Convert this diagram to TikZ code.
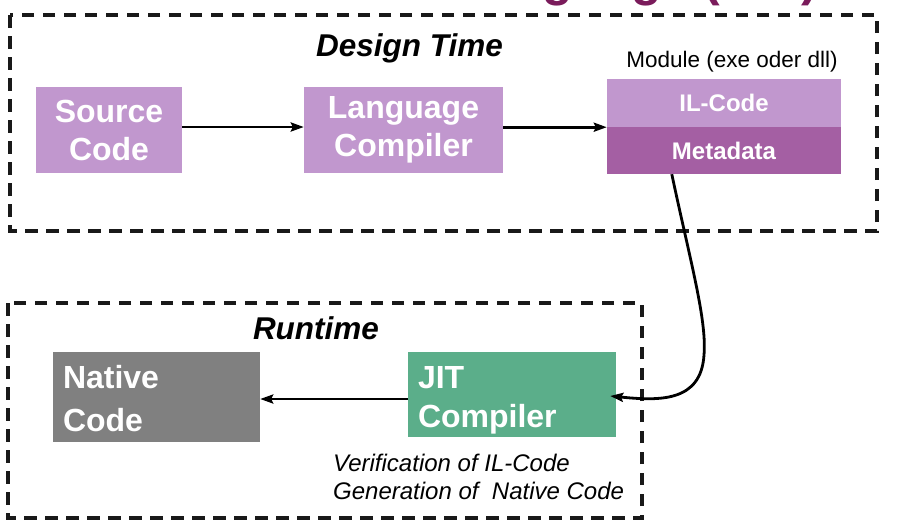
\documentclass[tikz,border=0pt]{standalone}
\usepackage{fontspec}
\setmainfont{Liberation Sans}
\usetikzlibrary{arrows.meta}
\definecolor{lilac}{HTML}{C197CE}
\definecolor{meta}{HTML}{A45FA3}
\definecolor{nativegray}{HTML}{808080}
\definecolor{jitgreen}{HTML}{5BAE8A}
\definecolor{titlepurple}{HTML}{7A1B5B}
\begin{document}
\begin{tikzpicture}[x=1pt,y=-1pt,
  frame/.style={draw=black!90, line width=3.2pt, dash pattern=on 12.5pt off 8.5pt},
  boxc/.style={rectangle, inner sep=0pt, text=white, font=\fontsize{32}{38}\selectfont\bfseries, align=center},
  boxl/.style={rectangle, inner sep=0pt, inner xsep=10pt, text=white, align=left},
  modbox/.style={rectangle, inner sep=0pt, text=white, font=\fontsize{24}{26}\selectfont\bfseries, minimum width=234pt},
  heading/.style={font=\fontsize{31.5}{34}\selectfont\bfseries\itshape},
  conn/.style={line width=2.8pt, -{Stealth[length=13pt,width=9pt,inset=2pt]}}
]
\useasboundingbox (0,0) rectangle (900,531);
\begin{scope}
\clip (0,0) rectangle (900,531);
\node[anchor=base east, text=titlepurple, inner sep=0pt, font=\fontsize{50}{55}\selectfont\bfseries] (title) at (818,-5) {Common Intermediate Language (CIL)};
\end{scope}
% frames
\draw[frame] (10,15) rectangle (877,231);
\draw[frame] (8,303) rectangle (642,518);
\node[heading] (design) at (409.5,48) {Design Time};
\node[heading] (runtime) at (316,328) {Runtime};
% design time boxes
\node[boxc, fill=lilac, minimum width=146pt, minimum height=86pt] (src) at (109,130) {Source\\Code};
\node[boxc, fill=lilac, minimum width=199pt, minimum height=86pt] (lang) at (403.5,130) {Language\\Compiler};
\node[modbox, fill=lilac, minimum height=48pt] (il) at (724,103) {IL-Code};
\node[modbox, fill=meta, minimum height=47pt] (meta) at (724,150.5) {Metadata};
\node[font=\fontsize{22.5}{25}\selectfont, inner sep=0pt] (modlabel) at (732,62) {Module (exe oder dll)};
% runtime boxes
\node[boxl, fill=nativegray, text width=187pt, minimum height=90pt, text height=20pt, text depth=37pt,
  font=\fontsize{32}{43}\selectfont\bfseries] (native) at (156.5,397) {Native\\Code};
\node[boxl, fill=jitgreen, text width=188pt, minimum height=85pt, text height=20pt, text depth=32pt,
  font=\fontsize{32}{39}\selectfont\bfseries] (jit) at (512,394.5) {JIT\\Compiler};
\node[anchor=north west, inner sep=0pt, align=left, font=\fontsize{24}{28}\selectfont\itshape] (notes) at (333,454) {Verification of IL-Code\\Generation of\ \ Native Code};
% connectors
\draw[conn] (src.east |- 0,127) -- (lang.west |- 0,127);
\draw[conn] (lang.east |- il.south) -- (il.south west);
\draw[conn] (jit.west |- 0,399) -- (native.east |- 0,399);
\draw[conn] ([xshift=65pt]meta.south west) .. controls (690,260) and (707,320) .. (704,355)
  .. controls (701,402) and (660,401) .. ([xshift=-6pt,yshift=-1.5pt]jit.east);
\end{tikzpicture}
\end{document}
